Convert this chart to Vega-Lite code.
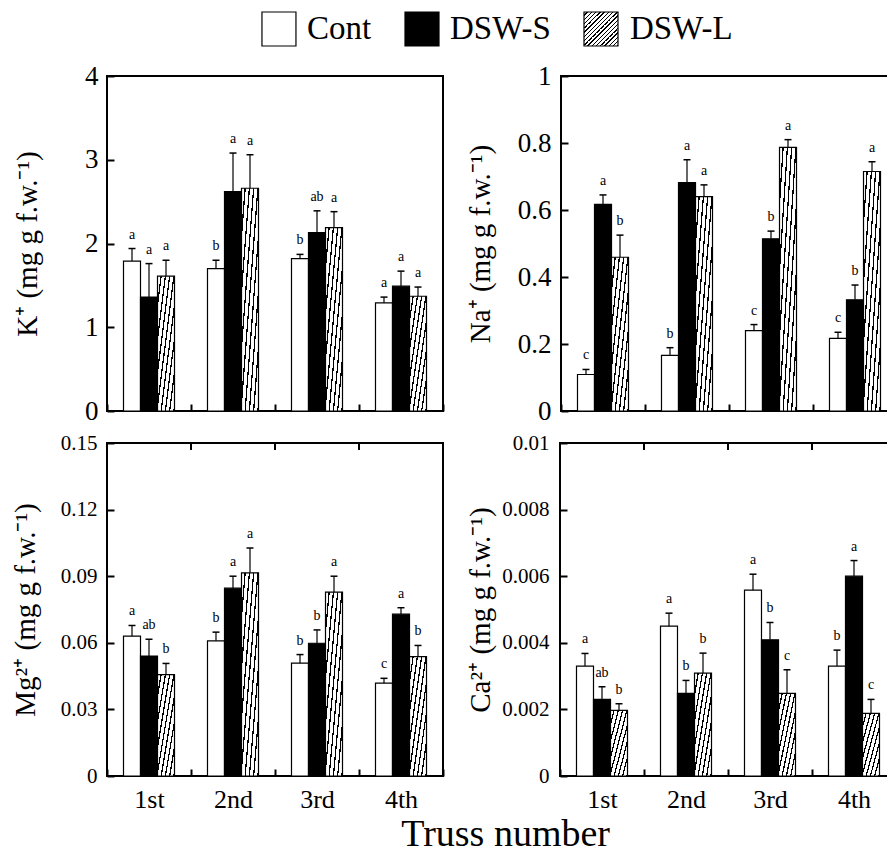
{
  "$schema": "https://vega.github.io/schema/vega-lite/v6.json",
  "padding": {"left": 10, "top": 9, "right": 0, "bottom": 0},
  "data": {
    "values": [
      {"ion": "K", "truss": "1st", "treatment": "Cont", "mean": 1.79, "upper": 1.94, "letter": "a"},
      {"ion": "K", "truss": "1st", "treatment": "DSW-S", "mean": 1.36, "upper": 1.76, "letter": "a"},
      {"ion": "K", "truss": "1st", "treatment": "DSW-L", "mean": 1.61, "upper": 1.80, "letter": "a"},
      {"ion": "K", "truss": "2nd", "treatment": "Cont", "mean": 1.70, "upper": 1.80, "letter": "b"},
      {"ion": "K", "truss": "2nd", "treatment": "DSW-S", "mean": 2.62, "upper": 3.08, "letter": "a"},
      {"ion": "K", "truss": "2nd", "treatment": "DSW-L", "mean": 2.66, "upper": 3.06, "letter": "a"},
      {"ion": "K", "truss": "3rd", "treatment": "Cont", "mean": 1.82, "upper": 1.87, "letter": "b"},
      {"ion": "K", "truss": "3rd", "treatment": "DSW-S", "mean": 2.13, "upper": 2.39, "letter": "ab"},
      {"ion": "K", "truss": "3rd", "treatment": "DSW-L", "mean": 2.19, "upper": 2.38, "letter": "a"},
      {"ion": "K", "truss": "4th", "treatment": "Cont", "mean": 1.29, "upper": 1.36, "letter": "a"},
      {"ion": "K", "truss": "4th", "treatment": "DSW-S", "mean": 1.49, "upper": 1.67, "letter": "a"},
      {"ion": "K", "truss": "4th", "treatment": "DSW-L", "mean": 1.37, "upper": 1.48, "letter": "a"},
      {"ion": "Na", "truss": "1st", "treatment": "Cont", "mean": 0.109, "upper": 0.124, "letter": "c"},
      {"ion": "Na", "truss": "1st", "treatment": "DSW-S", "mean": 0.617, "upper": 0.645, "letter": "a"},
      {"ion": "Na", "truss": "1st", "treatment": "DSW-L", "mean": 0.459, "upper": 0.525, "letter": "b"},
      {"ion": "Na", "truss": "2nd", "treatment": "Cont", "mean": 0.166, "upper": 0.189, "letter": "b"},
      {"ion": "Na", "truss": "2nd", "treatment": "DSW-S", "mean": 0.682, "upper": 0.750, "letter": "a"},
      {"ion": "Na", "truss": "2nd", "treatment": "DSW-L", "mean": 0.640, "upper": 0.675, "letter": "a"},
      {"ion": "Na", "truss": "3rd", "treatment": "Cont", "mean": 0.240, "upper": 0.258, "letter": "c"},
      {"ion": "Na", "truss": "3rd", "treatment": "DSW-S", "mean": 0.514, "upper": 0.537, "letter": "b"},
      {"ion": "Na", "truss": "3rd", "treatment": "DSW-L", "mean": 0.787, "upper": 0.810, "letter": "a"},
      {"ion": "Na", "truss": "4th", "treatment": "Cont", "mean": 0.217, "upper": 0.235, "letter": "c"},
      {"ion": "Na", "truss": "4th", "treatment": "DSW-S", "mean": 0.332, "upper": 0.376, "letter": "b"},
      {"ion": "Na", "truss": "4th", "treatment": "DSW-L", "mean": 0.715, "upper": 0.744, "letter": "a"},
      {"ion": "Mg", "truss": "1st", "treatment": "Cont", "mean": 0.0630, "upper": 0.0678, "letter": "a"},
      {"ion": "Mg", "truss": "1st", "treatment": "DSW-S", "mean": 0.0540, "upper": 0.0616, "letter": "ab"},
      {"ion": "Mg", "truss": "1st", "treatment": "DSW-L", "mean": 0.0457, "upper": 0.0507, "letter": "b"},
      {"ion": "Mg", "truss": "2nd", "treatment": "Cont", "mean": 0.0609, "upper": 0.0648, "letter": "b"},
      {"ion": "Mg", "truss": "2nd", "treatment": "DSW-S", "mean": 0.0846, "upper": 0.0900, "letter": "a"},
      {"ion": "Mg", "truss": "2nd", "treatment": "DSW-L", "mean": 0.0915, "upper": 0.1027, "letter": "a"},
      {"ion": "Mg", "truss": "3rd", "treatment": "Cont", "mean": 0.0508, "upper": 0.0547, "letter": "b"},
      {"ion": "Mg", "truss": "3rd", "treatment": "DSW-S", "mean": 0.0598, "upper": 0.0658, "letter": "b"},
      {"ion": "Mg", "truss": "3rd", "treatment": "DSW-L", "mean": 0.0828, "upper": 0.0900, "letter": "a"},
      {"ion": "Mg", "truss": "4th", "treatment": "Cont", "mean": 0.0418, "upper": 0.0440, "letter": "c"},
      {"ion": "Mg", "truss": "4th", "treatment": "DSW-S", "mean": 0.0729, "upper": 0.0758, "letter": "a"},
      {"ion": "Mg", "truss": "4th", "treatment": "DSW-L", "mean": 0.0538, "upper": 0.0588, "letter": "b"},
      {"ion": "Ca", "truss": "1st", "treatment": "Cont", "mean": 0.00330, "upper": 0.00368, "letter": "a"},
      {"ion": "Ca", "truss": "1st", "treatment": "DSW-S", "mean": 0.00230, "upper": 0.00268, "letter": "ab"},
      {"ion": "Ca", "truss": "1st", "treatment": "DSW-L", "mean": 0.00197, "upper": 0.00217, "letter": "b"},
      {"ion": "Ca", "truss": "2nd", "treatment": "Cont", "mean": 0.00450, "upper": 0.00489, "letter": "a"},
      {"ion": "Ca", "truss": "2nd", "treatment": "DSW-S", "mean": 0.00248, "upper": 0.00287, "letter": "b"},
      {"ion": "Ca", "truss": "2nd", "treatment": "DSW-L", "mean": 0.00309, "upper": 0.00369, "letter": "b"},
      {"ion": "Ca", "truss": "3rd", "treatment": "Cont", "mean": 0.00558, "upper": 0.00606, "letter": "a"},
      {"ion": "Ca", "truss": "3rd", "treatment": "DSW-S", "mean": 0.00409, "upper": 0.00461, "letter": "b"},
      {"ion": "Ca", "truss": "3rd", "treatment": "DSW-L", "mean": 0.00248, "upper": 0.00319, "letter": "c"},
      {"ion": "Ca", "truss": "4th", "treatment": "Cont", "mean": 0.00330, "upper": 0.00378, "letter": "b"},
      {"ion": "Ca", "truss": "4th", "treatment": "DSW-S", "mean": 0.00600, "upper": 0.00647, "letter": "a"},
      {"ion": "Ca", "truss": "4th", "treatment": "DSW-L", "mean": 0.00188, "upper": 0.00230, "letter": "c"}
    ]
  },
  "title": {
    "text": "Truss number",
    "orient": "bottom",
    "anchor": "middle",
    "frame": "bounds",
    "fontSize": 38,
    "fontWeight": "normal",
    "font": "Liberation Serif",
    "color": "black",
    "offset": 3,
    "dx": 51
  },
  "spacing": 12,
  "vconcat": [
    {
      "spacing": 0,
      "bounds": "flush",
      "hconcat": [
        {
          "width": 298,
          "height": 34,
          "view": {"stroke": null},
          "data": {"values": [{"treatment": "Cont"}]},
          "encoding": {
            "x": {"field": "treatment", "type": "nominal", "bandPosition": 0,
                  "scale": {"type": "band", "paddingInner": 0, "paddingOuter": 1, "align": 0.78}, "axis": null}
          },
          "layer": [
            {"mark": {"type": "square", "size": 1156, "xOffset": 17, "fill": "white", "stroke": "black", "strokeWidth": 1.2, "opacity": 1}},
            {"mark": {"type": "text", "align": "left", "baseline": "middle", "dx": 45, "fontSize": 33, "fill": "black"},
             "encoding": {"text": {"field": "treatment"}}}
          ]
        },
        {
          "width": 179,
          "height": 34,
          "view": {"stroke": null},
          "data": {"values": [{"treatment": "DSW-S"}]},
          "encoding": {
            "x": {"field": "treatment", "type": "nominal", "bandPosition": 0,
                  "scale": {"type": "band", "paddingInner": 0, "paddingOuter": 0}, "axis": null}
          },
          "layer": [
            {"mark": {"type": "square", "size": 1156, "xOffset": 17, "fill": "black", "stroke": "black", "strokeWidth": 1.2, "opacity": 1}},
            {"mark": {"type": "text", "align": "left", "baseline": "middle", "dx": 45, "fontSize": 33, "fill": "black"},
             "encoding": {"text": {"field": "treatment"}}}
          ]
        },
        {
          "width": 170,
          "height": 34,
          "view": {"stroke": null},
          "data": {"values": [{"treatment": "DSW-L"}]},
          "encoding": {
            "x": {"field": "treatment", "type": "nominal", "bandPosition": 0,
                  "scale": {"type": "band", "paddingInner": 0, "paddingOuter": 0}, "axis": null}
          },
          "layer": [
            {"mark": {"type": "square", "size": 1156, "xOffset": 17, "stroke": "black", "strokeWidth": 1.2, "opacity": 1,
                      "fill": {"gradient": "linear", "x1": 0, "y1": 0, "x2": 1, "y2": 1, "stops": [
                        {"offset": 0, "color": "white"}, {"offset": 0.044, "color": "white"}, {"offset": 0.044, "color": "black"}, {"offset": 0.0625, "color": "black"},
                        {"offset": 0.0625, "color": "white"}, {"offset": 0.1065, "color": "white"}, {"offset": 0.1065, "color": "black"}, {"offset": 0.125, "color": "black"},
                        {"offset": 0.125, "color": "white"}, {"offset": 0.169, "color": "white"}, {"offset": 0.169, "color": "black"}, {"offset": 0.1875, "color": "black"},
                        {"offset": 0.1875, "color": "white"}, {"offset": 0.2315, "color": "white"}, {"offset": 0.2315, "color": "black"}, {"offset": 0.25, "color": "black"},
                        {"offset": 0.25, "color": "white"}, {"offset": 0.294, "color": "white"}, {"offset": 0.294, "color": "black"}, {"offset": 0.3125, "color": "black"},
                        {"offset": 0.3125, "color": "white"}, {"offset": 0.3565, "color": "white"}, {"offset": 0.3565, "color": "black"}, {"offset": 0.375, "color": "black"},
                        {"offset": 0.375, "color": "white"}, {"offset": 0.419, "color": "white"}, {"offset": 0.419, "color": "black"}, {"offset": 0.4375, "color": "black"},
                        {"offset": 0.4375, "color": "white"}, {"offset": 0.4815, "color": "white"}, {"offset": 0.4815, "color": "black"}, {"offset": 0.5, "color": "black"},
                        {"offset": 0.5, "color": "white"}, {"offset": 0.544, "color": "white"}, {"offset": 0.544, "color": "black"}, {"offset": 0.5625, "color": "black"},
                        {"offset": 0.5625, "color": "white"}, {"offset": 0.6065, "color": "white"}, {"offset": 0.6065, "color": "black"}, {"offset": 0.625, "color": "black"},
                        {"offset": 0.625, "color": "white"}, {"offset": 0.669, "color": "white"}, {"offset": 0.669, "color": "black"}, {"offset": 0.6875, "color": "black"},
                        {"offset": 0.6875, "color": "white"}, {"offset": 0.7315, "color": "white"}, {"offset": 0.7315, "color": "black"}, {"offset": 0.75, "color": "black"},
                        {"offset": 0.75, "color": "white"}, {"offset": 0.794, "color": "white"}, {"offset": 0.794, "color": "black"}, {"offset": 0.8125, "color": "black"},
                        {"offset": 0.8125, "color": "white"}, {"offset": 0.8565, "color": "white"}, {"offset": 0.8565, "color": "black"}, {"offset": 0.875, "color": "black"},
                        {"offset": 0.875, "color": "white"}, {"offset": 0.919, "color": "white"}, {"offset": 0.919, "color": "black"}, {"offset": 0.9375, "color": "black"},
                        {"offset": 0.9375, "color": "white"}, {"offset": 0.9815, "color": "white"}, {"offset": 0.9815, "color": "black"}, {"offset": 1, "color": "black"}
                      ]}}},
            {"mark": {"type": "text", "align": "left", "baseline": "middle", "dx": 46, "fontSize": 33, "fill": "black"},
             "encoding": {"text": {"field": "treatment"}}}
          ]
        }
      ]
    },
    {
      "spacing": 6,
      "vconcat": [
        {
          "spacing": 118,
          "bounds": "flush",
          "hconcat": [
            {
              "width": 336,
              "height": 335,
              "transform": [{"filter": "datum.ion === 'K'"}],
              "encoding": {
                "x": {"field": "truss", "type": "nominal", "sort": null, "scale": {"domain": ["1st", "2nd", "3rd", "4th"], "paddingInner": 0, "paddingOuter": 0},
                      "axis": {"orient": "bottom", "tickBand": "extent", "labels": false, "title": null}},
                "y": {"field": "mean", "type": "quantitative", "scale": {"domain": [0, 4], "nice": false},
                      "axis": {"values": [0, 1, 2, 3, 4], "format": "~g", "labelFontSize": 27, "labelPadding": 16, "titlePadding": 42, "titleFontSize": 29, "title": "K⁺ (mg g f.w.⁻¹)"}}
              },
              "layer": [
                {"transform": [{"filter": "datum.treatment === 'Cont'"}],
                 "mark": {"type": "bar", "fill": "white", "stroke": "black", "strokeWidth": 1.2},
                 "encoding": {"xOffset": {"field": "treatment", "type": "nominal", "sort": null, "scale": {"domain": ["Cont", "DSW-S", "DSW-L"], "paddingInner": 0, "paddingOuter": 0.97}}}},
                {"transform": [{"filter": "datum.treatment === 'DSW-S'"}],
                 "mark": {"type": "bar", "fill": "black", "stroke": "black", "strokeWidth": 1.2},
                 "encoding": {"xOffset": {"field": "treatment", "type": "nominal", "sort": null, "scale": {"domain": ["Cont", "DSW-S", "DSW-L"], "paddingInner": 0, "paddingOuter": 0.97}}}},
                {"transform": [{"filter": "datum.treatment === 'DSW-L'"}],
                 "mark": {"type": "bar", "stroke": "black", "strokeWidth": 1.2,
                          "fill": {"gradient": "linear", "x1": 0, "y1": 0, "x2": 1, "y2": 1, "stops": [
                            {"offset": 0, "color": "white"}, {"offset": 0.088, "color": "white"}, {"offset": 0.088, "color": "black"}, {"offset": 0.125, "color": "black"},
                            {"offset": 0.125, "color": "white"}, {"offset": 0.213, "color": "white"}, {"offset": 0.213, "color": "black"}, {"offset": 0.25, "color": "black"},
                            {"offset": 0.25, "color": "white"}, {"offset": 0.338, "color": "white"}, {"offset": 0.338, "color": "black"}, {"offset": 0.375, "color": "black"},
                            {"offset": 0.375, "color": "white"}, {"offset": 0.463, "color": "white"}, {"offset": 0.463, "color": "black"}, {"offset": 0.5, "color": "black"},
                            {"offset": 0.5, "color": "white"}, {"offset": 0.588, "color": "white"}, {"offset": 0.588, "color": "black"}, {"offset": 0.625, "color": "black"},
                            {"offset": 0.625, "color": "white"}, {"offset": 0.713, "color": "white"}, {"offset": 0.713, "color": "black"}, {"offset": 0.75, "color": "black"},
                            {"offset": 0.75, "color": "white"}, {"offset": 0.838, "color": "white"}, {"offset": 0.838, "color": "black"}, {"offset": 0.875, "color": "black"},
                            {"offset": 0.875, "color": "white"}, {"offset": 0.963, "color": "white"}, {"offset": 0.963, "color": "black"}, {"offset": 1, "color": "black"}
                          ]}},
                 "encoding": {"xOffset": {"field": "treatment", "type": "nominal", "sort": null, "scale": {"domain": ["Cont", "DSW-S", "DSW-L"], "paddingInner": 0, "paddingOuter": 0.97}}}},
                {"mark": {"type": "rule", "color": "black", "strokeWidth": 1.2},
                 "encoding": {"xOffset": {"field": "treatment", "type": "nominal", "sort": null, "scale": {"domain": ["Cont", "DSW-S", "DSW-L"], "paddingInner": 0, "paddingOuter": 0.97}},
                              "y2": {"field": "upper"}}},
                {"mark": {"type": "tick", "orient": "horizontal", "size": 7, "thickness": 1.5, "color": "black", "opacity": 1},
                 "encoding": {"xOffset": {"field": "treatment", "type": "nominal", "sort": null, "scale": {"domain": ["Cont", "DSW-S", "DSW-L"], "paddingInner": 0, "paddingOuter": 0.97}},
                              "y": {"field": "upper", "type": "quantitative", "scale": {"domain": [0, 4], "nice": false}}}},
                {"mark": {"type": "text", "baseline": "alphabetic", "dy": -10, "fontSize": 14, "fill": "black"},
                 "encoding": {"xOffset": {"field": "treatment", "type": "nominal", "sort": null, "scale": {"domain": ["Cont", "DSW-S", "DSW-L"], "paddingInner": 0, "paddingOuter": 0.97}},
                              "y": {"field": "upper", "type": "quantitative", "scale": {"domain": [0, 4], "nice": false}},
                              "text": {"field": "letter"}}}
              ]
            },
            {
              "width": 336,
              "height": 335,
              "transform": [{"filter": "datum.ion === 'Na'"}],
              "encoding": {
                "x": {"field": "truss", "type": "nominal", "sort": null, "scale": {"domain": ["1st", "2nd", "3rd", "4th"], "paddingInner": 0, "paddingOuter": 0},
                      "axis": {"orient": "bottom", "tickBand": "extent", "labels": false, "title": null}},
                "y": {"field": "mean", "type": "quantitative", "scale": {"domain": [0, 1], "nice": false},
                      "axis": {"values": [0, 0.2, 0.4, 0.6, 0.8, 1], "format": "~g", "labelFontSize": 27, "labelPadding": 17, "titlePadding": 22, "titleFontSize": 29, "title": "Na⁺ (mg g f.w.⁻¹)"}}
              },
              "layer": [
                {"transform": [{"filter": "datum.treatment === 'Cont'"}],
                 "mark": {"type": "bar", "fill": "white", "stroke": "black", "strokeWidth": 1.2},
                 "encoding": {"xOffset": {"field": "treatment", "type": "nominal", "sort": null, "scale": {"domain": ["Cont", "DSW-S", "DSW-L"], "paddingInner": 0, "paddingOuter": 0.97}}}},
                {"transform": [{"filter": "datum.treatment === 'DSW-S'"}],
                 "mark": {"type": "bar", "fill": "black", "stroke": "black", "strokeWidth": 1.2},
                 "encoding": {"xOffset": {"field": "treatment", "type": "nominal", "sort": null, "scale": {"domain": ["Cont", "DSW-S", "DSW-L"], "paddingInner": 0, "paddingOuter": 0.97}}}},
                {"transform": [{"filter": "datum.treatment === 'DSW-L'"}],
                 "mark": {"type": "bar", "stroke": "black", "strokeWidth": 1.2,
                          "fill": {"gradient": "linear", "x1": 0, "y1": 0, "x2": 1, "y2": 1, "stops": [
                            {"offset": 0, "color": "white"}, {"offset": 0.088, "color": "white"}, {"offset": 0.088, "color": "black"}, {"offset": 0.125, "color": "black"},
                            {"offset": 0.125, "color": "white"}, {"offset": 0.213, "color": "white"}, {"offset": 0.213, "color": "black"}, {"offset": 0.25, "color": "black"},
                            {"offset": 0.25, "color": "white"}, {"offset": 0.338, "color": "white"}, {"offset": 0.338, "color": "black"}, {"offset": 0.375, "color": "black"},
                            {"offset": 0.375, "color": "white"}, {"offset": 0.463, "color": "white"}, {"offset": 0.463, "color": "black"}, {"offset": 0.5, "color": "black"},
                            {"offset": 0.5, "color": "white"}, {"offset": 0.588, "color": "white"}, {"offset": 0.588, "color": "black"}, {"offset": 0.625, "color": "black"},
                            {"offset": 0.625, "color": "white"}, {"offset": 0.713, "color": "white"}, {"offset": 0.713, "color": "black"}, {"offset": 0.75, "color": "black"},
                            {"offset": 0.75, "color": "white"}, {"offset": 0.838, "color": "white"}, {"offset": 0.838, "color": "black"}, {"offset": 0.875, "color": "black"},
                            {"offset": 0.875, "color": "white"}, {"offset": 0.963, "color": "white"}, {"offset": 0.963, "color": "black"}, {"offset": 1, "color": "black"}
                          ]}},
                 "encoding": {"xOffset": {"field": "treatment", "type": "nominal", "sort": null, "scale": {"domain": ["Cont", "DSW-S", "DSW-L"], "paddingInner": 0, "paddingOuter": 0.97}}}},
                {"mark": {"type": "rule", "color": "black", "strokeWidth": 1.2},
                 "encoding": {"xOffset": {"field": "treatment", "type": "nominal", "sort": null, "scale": {"domain": ["Cont", "DSW-S", "DSW-L"], "paddingInner": 0, "paddingOuter": 0.97}},
                              "y2": {"field": "upper"}}},
                {"mark": {"type": "tick", "orient": "horizontal", "size": 7, "thickness": 1.5, "color": "black", "opacity": 1},
                 "encoding": {"xOffset": {"field": "treatment", "type": "nominal", "sort": null, "scale": {"domain": ["Cont", "DSW-S", "DSW-L"], "paddingInner": 0, "paddingOuter": 0.97}},
                              "y": {"field": "upper", "type": "quantitative", "scale": {"domain": [0, 1], "nice": false}}}},
                {"mark": {"type": "text", "baseline": "alphabetic", "dy": -10, "fontSize": 14, "fill": "black"},
                 "encoding": {"xOffset": {"field": "treatment", "type": "nominal", "sort": null, "scale": {"domain": ["Cont", "DSW-S", "DSW-L"], "paddingInner": 0, "paddingOuter": 0.97}},
                              "y": {"field": "upper", "type": "quantitative", "scale": {"domain": [0, 1], "nice": false}},
                              "text": {"field": "letter"}}}
              ]
            }
          ]
        },
        {
          "spacing": 117,
          "bounds": "flush",
          "hconcat": [
            {
              "width": 336,
              "height": 333,
              "transform": [{"filter": "datum.ion === 'Mg'"}],
              "encoding": {
                "x": {"field": "truss", "type": "nominal", "sort": null, "scale": {"domain": ["1st", "2nd", "3rd", "4th"], "paddingInner": 0, "paddingOuter": 0},
                      "axis": {"orient": "bottom", "tickBand": "extent", "labelAngle": 0, "labelFontSize": 26, "labelPadding": 17, "title": null}},
                "y": {"field": "mean", "type": "quantitative", "scale": {"domain": [0, 0.15], "nice": false},
                      "axis": {"values": [0, 0.03, 0.06, 0.09, 0.12, 0.15], "format": "~g", "labelFontSize": 21, "labelPadding": 17, "titlePadding": 20, "titleFontSize": 29, "title": "Mg²⁺ (mg g f.w.⁻¹)"}}
              },
              "layer": [
                {"transform": [{"filter": "datum.treatment === 'Cont'"}],
                 "mark": {"type": "bar", "fill": "white", "stroke": "black", "strokeWidth": 1.2},
                 "encoding": {"xOffset": {"field": "treatment", "type": "nominal", "sort": null, "scale": {"domain": ["Cont", "DSW-S", "DSW-L"], "paddingInner": 0, "paddingOuter": 0.97}}}},
                {"transform": [{"filter": "datum.treatment === 'DSW-S'"}],
                 "mark": {"type": "bar", "fill": "black", "stroke": "black", "strokeWidth": 1.2},
                 "encoding": {"xOffset": {"field": "treatment", "type": "nominal", "sort": null, "scale": {"domain": ["Cont", "DSW-S", "DSW-L"], "paddingInner": 0, "paddingOuter": 0.97}}}},
                {"transform": [{"filter": "datum.treatment === 'DSW-L'"}],
                 "mark": {"type": "bar", "stroke": "black", "strokeWidth": 1.2,
                          "fill": {"gradient": "linear", "x1": 0, "y1": 0, "x2": 1, "y2": 1, "stops": [
                            {"offset": 0, "color": "white"}, {"offset": 0.088, "color": "white"}, {"offset": 0.088, "color": "black"}, {"offset": 0.125, "color": "black"},
                            {"offset": 0.125, "color": "white"}, {"offset": 0.213, "color": "white"}, {"offset": 0.213, "color": "black"}, {"offset": 0.25, "color": "black"},
                            {"offset": 0.25, "color": "white"}, {"offset": 0.338, "color": "white"}, {"offset": 0.338, "color": "black"}, {"offset": 0.375, "color": "black"},
                            {"offset": 0.375, "color": "white"}, {"offset": 0.463, "color": "white"}, {"offset": 0.463, "color": "black"}, {"offset": 0.5, "color": "black"},
                            {"offset": 0.5, "color": "white"}, {"offset": 0.588, "color": "white"}, {"offset": 0.588, "color": "black"}, {"offset": 0.625, "color": "black"},
                            {"offset": 0.625, "color": "white"}, {"offset": 0.713, "color": "white"}, {"offset": 0.713, "color": "black"}, {"offset": 0.75, "color": "black"},
                            {"offset": 0.75, "color": "white"}, {"offset": 0.838, "color": "white"}, {"offset": 0.838, "color": "black"}, {"offset": 0.875, "color": "black"},
                            {"offset": 0.875, "color": "white"}, {"offset": 0.963, "color": "white"}, {"offset": 0.963, "color": "black"}, {"offset": 1, "color": "black"}
                          ]}},
                 "encoding": {"xOffset": {"field": "treatment", "type": "nominal", "sort": null, "scale": {"domain": ["Cont", "DSW-S", "DSW-L"], "paddingInner": 0, "paddingOuter": 0.97}}}},
                {"mark": {"type": "rule", "color": "black", "strokeWidth": 1.2},
                 "encoding": {"xOffset": {"field": "treatment", "type": "nominal", "sort": null, "scale": {"domain": ["Cont", "DSW-S", "DSW-L"], "paddingInner": 0, "paddingOuter": 0.97}},
                              "y2": {"field": "upper"}}},
                {"mark": {"type": "tick", "orient": "horizontal", "size": 7, "thickness": 1.5, "color": "black", "opacity": 1},
                 "encoding": {"xOffset": {"field": "treatment", "type": "nominal", "sort": null, "scale": {"domain": ["Cont", "DSW-S", "DSW-L"], "paddingInner": 0, "paddingOuter": 0.97}},
                              "y": {"field": "upper", "type": "quantitative", "scale": {"domain": [0, 0.15], "nice": false}}}},
                {"mark": {"type": "text", "baseline": "alphabetic", "dy": -10, "fontSize": 14, "fill": "black"},
                 "encoding": {"xOffset": {"field": "treatment", "type": "nominal", "sort": null, "scale": {"domain": ["Cont", "DSW-S", "DSW-L"], "paddingInner": 0, "paddingOuter": 0.97}},
                              "y": {"field": "upper", "type": "quantitative", "scale": {"domain": [0, 0.15], "nice": false}},
                              "text": {"field": "letter"}}},
                {"transform": [{"filter": "datum.treatment === 'Cont'"}],
                 "mark": {"type": "tick", "orient": "vertical", "size": 14, "thickness": 2, "color": "black", "opacity": 1, "clip": true},
                 "encoding": {"x": {"field": "truss", "type": "nominal", "sort": null, "bandPosition": 0, "scale": {"domain": ["1st", "2nd", "3rd", "4th"], "paddingInner": 0, "paddingOuter": 0},
                                    "axis": {"orient": "bottom", "tickBand": "extent", "labelAngle": 0, "labelFontSize": 26, "labelPadding": 17, "title": null}},
                              "y": {"datum": 0.15}}}
              ]
            },
            {
              "width": 336,
              "height": 333,
              "transform": [{"filter": "datum.ion === 'Ca'"}],
              "encoding": {
                "x": {"field": "truss", "type": "nominal", "sort": null, "scale": {"domain": ["1st", "2nd", "3rd", "4th"], "paddingInner": 0, "paddingOuter": 0},
                      "axis": {"orient": "bottom", "tickBand": "extent", "labelAngle": 0, "labelFontSize": 26, "labelPadding": 17, "title": null}},
                "y": {"field": "mean", "type": "quantitative", "scale": {"domain": [0, 0.01], "nice": false},
                      "axis": {"values": [0, 0.002, 0.004, 0.006, 0.008, 0.01], "format": "~g", "labelFontSize": 21, "labelPadding": 18, "titlePadding": 6, "titleFontSize": 29, "title": "Ca²⁺ (mg g f.w.⁻¹)"}}
              },
              "layer": [
                {"transform": [{"filter": "datum.treatment === 'Cont'"}],
                 "mark": {"type": "bar", "fill": "white", "stroke": "black", "strokeWidth": 1.2},
                 "encoding": {"xOffset": {"field": "treatment", "type": "nominal", "sort": null, "scale": {"domain": ["Cont", "DSW-S", "DSW-L"], "paddingInner": 0, "paddingOuter": 0.97}}}},
                {"transform": [{"filter": "datum.treatment === 'DSW-S'"}],
                 "mark": {"type": "bar", "fill": "black", "stroke": "black", "strokeWidth": 1.2},
                 "encoding": {"xOffset": {"field": "treatment", "type": "nominal", "sort": null, "scale": {"domain": ["Cont", "DSW-S", "DSW-L"], "paddingInner": 0, "paddingOuter": 0.97}}}},
                {"transform": [{"filter": "datum.treatment === 'DSW-L'"}],
                 "mark": {"type": "bar", "stroke": "black", "strokeWidth": 1.2,
                          "fill": {"gradient": "linear", "x1": 0, "y1": 0, "x2": 1, "y2": 1, "stops": [
                            {"offset": 0, "color": "white"}, {"offset": 0.088, "color": "white"}, {"offset": 0.088, "color": "black"}, {"offset": 0.125, "color": "black"},
                            {"offset": 0.125, "color": "white"}, {"offset": 0.213, "color": "white"}, {"offset": 0.213, "color": "black"}, {"offset": 0.25, "color": "black"},
                            {"offset": 0.25, "color": "white"}, {"offset": 0.338, "color": "white"}, {"offset": 0.338, "color": "black"}, {"offset": 0.375, "color": "black"},
                            {"offset": 0.375, "color": "white"}, {"offset": 0.463, "color": "white"}, {"offset": 0.463, "color": "black"}, {"offset": 0.5, "color": "black"},
                            {"offset": 0.5, "color": "white"}, {"offset": 0.588, "color": "white"}, {"offset": 0.588, "color": "black"}, {"offset": 0.625, "color": "black"},
                            {"offset": 0.625, "color": "white"}, {"offset": 0.713, "color": "white"}, {"offset": 0.713, "color": "black"}, {"offset": 0.75, "color": "black"},
                            {"offset": 0.75, "color": "white"}, {"offset": 0.838, "color": "white"}, {"offset": 0.838, "color": "black"}, {"offset": 0.875, "color": "black"},
                            {"offset": 0.875, "color": "white"}, {"offset": 0.963, "color": "white"}, {"offset": 0.963, "color": "black"}, {"offset": 1, "color": "black"}
                          ]}},
                 "encoding": {"xOffset": {"field": "treatment", "type": "nominal", "sort": null, "scale": {"domain": ["Cont", "DSW-S", "DSW-L"], "paddingInner": 0, "paddingOuter": 0.97}}}},
                {"mark": {"type": "rule", "color": "black", "strokeWidth": 1.2},
                 "encoding": {"xOffset": {"field": "treatment", "type": "nominal", "sort": null, "scale": {"domain": ["Cont", "DSW-S", "DSW-L"], "paddingInner": 0, "paddingOuter": 0.97}},
                              "y2": {"field": "upper"}}},
                {"mark": {"type": "tick", "orient": "horizontal", "size": 7, "thickness": 1.5, "color": "black", "opacity": 1},
                 "encoding": {"xOffset": {"field": "treatment", "type": "nominal", "sort": null, "scale": {"domain": ["Cont", "DSW-S", "DSW-L"], "paddingInner": 0, "paddingOuter": 0.97}},
                              "y": {"field": "upper", "type": "quantitative", "scale": {"domain": [0, 0.01], "nice": false}}}},
                {"mark": {"type": "text", "baseline": "alphabetic", "dy": -10, "fontSize": 14, "fill": "black"},
                 "encoding": {"xOffset": {"field": "treatment", "type": "nominal", "sort": null, "scale": {"domain": ["Cont", "DSW-S", "DSW-L"], "paddingInner": 0, "paddingOuter": 0.97}},
                              "y": {"field": "upper", "type": "quantitative", "scale": {"domain": [0, 0.01], "nice": false}},
                              "text": {"field": "letter"}}},
                {"transform": [{"filter": "datum.treatment === 'Cont'"}],
                 "mark": {"type": "tick", "orient": "vertical", "size": 14, "thickness": 2, "color": "black", "opacity": 1, "clip": true},
                 "encoding": {"x": {"field": "truss", "type": "nominal", "sort": null, "bandPosition": 0, "scale": {"domain": ["1st", "2nd", "3rd", "4th"], "paddingInner": 0, "paddingOuter": 0},
                                    "axis": {"orient": "bottom", "tickBand": "extent", "labelAngle": 0, "labelFontSize": 26, "labelPadding": 17, "title": null}},
                              "y": {"datum": 0.01}}}
              ]
            }
          ]
        }
      ]
    }
  ],
  "config": {
    "font": "Liberation Serif",
    "view": {"stroke": "black", "strokeWidth": 2},
    "axis": {
      "grid": false,
      "domain": false,
      "ticks": true,
      "tickColor": "black",
      "tickWidth": 2,
      "tickSize": -7,
      "labelColor": "black",
      "labelFont": "Liberation Serif",
      "labelFlush": false,
      "titleColor": "black",
      "titleFont": "Liberation Serif",
      "titleFontWeight": "normal"
    },
    "text": {"font": "Liberation Serif"}
  }
}
